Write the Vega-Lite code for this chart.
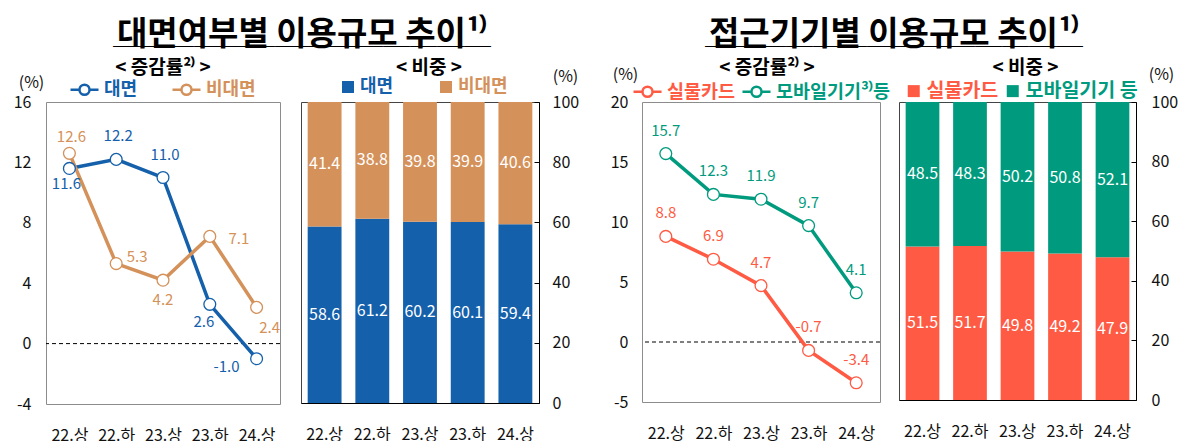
{
  "$schema": "https://vega.github.io/schema/vega-lite/v6.json",
  "background": "white",
  "padding": {"left": 12, "top": 18, "right": 5, "bottom": 0},
  "spacing": 29,
  "resolve": {"scale": {"color": "independent"}, "legend": {"color": "independent"}},
  "hconcat": [
    {
      "title": {"text": "대면여부별 이용규모 추이¹⁾", "fontSize": 33, "fontWeight": "bold", "anchor": "middle", "dx": 6, "subtitle": "──────────────", "subtitleFontSize": 27, "subtitleColor": "black", "subtitlePadding": -16, "offset": -3},
      "spacing": 21,
      "bounds": "flush",
      "resolve": {"scale": {"color": "independent"}, "legend": {"color": "independent"}},
      "hconcat": [
        {
          "width": 234,
          "height": 302,
          "title": {"text": "< 증감률²⁾ >", "fontSize": 19, "fontWeight": "bold", "frame": "group", "anchor": "middle", "offset": -4},
          "view": {"stroke": "#8c8c8c"},
          "data": {"values": [
            {"period": "22.상", "series": "대면", "value": 11.6},
            {"period": "22.하", "series": "대면", "value": 12.2},
            {"period": "23.상", "series": "대면", "value": 11.0},
            {"period": "23.하", "series": "대면", "value": 2.6},
            {"period": "24.상", "series": "대면", "value": -1.0},
            {"period": "22.상", "series": "비대면", "value": 12.6},
            {"period": "22.하", "series": "비대면", "value": 5.3},
            {"period": "23.상", "series": "비대면", "value": 4.2},
            {"period": "23.하", "series": "비대면", "value": 7.1},
            {"period": "24.상", "series": "비대면", "value": 2.4}
          ]},
          "layer": [
            {
              "data": {"values": [{}]},
              "mark": {"type": "rule", "color": "black", "strokeDash": [4, 3], "strokeWidth": 1},
              "encoding": {"y": {"datum": 0, "type": "quantitative", "scale": {"domain": [-4, 16]}}}
            },
            {
              "encoding": {
                "x": {"field": "period", "type": "ordinal", "scale": {"type": "point", "padding": 0.5}, "axis": {"title": null, "labelAngle": 0, "ticks": false, "domain": false, "labelPadding": 23}},
                "y": {"field": "value", "type": "quantitative", "scale": {"domain": [-4, 16]}, "axis": {"title": "(%)", "titleAngle": 0, "titleX": -15, "titleY": -20, "titleAlign": "center", "titleBaseline": "middle", "values": [-4, 0, 4, 8, 12, 16], "ticks": false, "domain": false, "grid": false, "labelPadding": 15}}
              },
              "layer": [
                {
                  "mark": {"type": "line", "strokeWidth": 3.5},
                  "encoding": {"color": {"field": "series", "type": "nominal", "scale": {"domain": ["대면", "비대면"], "range": ["#1560AB", "#D4915A"]},
                    "legend": {"title": null, "orient": "none", "legendX": 23, "legendY": -28, "direction": "horizontal", "gridAlign": "each", "symbolType": "M-1,0L-0.36,0M0.36,0L1,0M-0.36,0A0.36,0.36,0,1,1,0.36,0A0.36,0.36,0,1,1,-0.36,0", "symbolSize": 784, "symbolStrokeWidth": 2.5, "symbolFillColor": "white", "labelFontSize": 18, "labelFontWeight": "bold", "labelOffset": 4, "columnPadding": 29, "labelColor": {"expr": "datum.value == '대면' ? '#1560AB' : '#D4915A'"}}}}
                },
                {
                  "mark": {"type": "point", "filled": false, "fill": "white", "fillOpacity": 1, "size": 140, "strokeWidth": 1.3, "opacity": 1},
                  "encoding": {"color": {"field": "series", "type": "nominal"}}
                },
                {"transform": [{"filter": "datum.series == '대면' && datum.period == '22.상'"}], "mark": {"type": "text", "dx": -3, "dy": 16, "color": "#1560AB", "fontSize": 15}, "encoding": {"text": {"field": "value", "type": "quantitative", "format": ".1f"}}},
                {"transform": [{"filter": "datum.series == '대면' && (datum.period == '22.하' || datum.period == '23.상')"}], "mark": {"type": "text", "dx": 2, "dy": -23, "color": "#1560AB", "fontSize": 15}, "encoding": {"text": {"field": "value", "type": "quantitative", "format": ".1f"}}},
                {"transform": [{"filter": "datum.series == '대면' && datum.period == '23.하'"}], "mark": {"type": "text", "dx": -6, "dy": 18, "color": "#1560AB", "fontSize": 15}, "encoding": {"text": {"field": "value", "type": "quantitative", "format": ".1f"}}},
                {"transform": [{"filter": "datum.series == '대면' && datum.period == '24.상'"}], "mark": {"type": "text", "dx": -30, "dy": 8, "color": "#1560AB", "fontSize": 15}, "encoding": {"text": {"field": "value", "type": "quantitative", "format": ".1f"}}},
                {"transform": [{"filter": "datum.series == '비대면' && datum.period == '22.상'"}], "mark": {"type": "text", "dx": 2, "dy": -16, "color": "#D4915A", "fontSize": 15}, "encoding": {"text": {"field": "value", "type": "quantitative", "format": ".1f"}}},
                {"transform": [{"filter": "datum.series == '비대면' && datum.period == '22.하'"}], "mark": {"type": "text", "dx": 21, "dy": -7, "color": "#D4915A", "fontSize": 15}, "encoding": {"text": {"field": "value", "type": "quantitative", "format": ".1f"}}},
                {"transform": [{"filter": "datum.series == '비대면' && datum.period == '23.상'"}], "mark": {"type": "text", "dx": 0, "dy": 20, "color": "#D4915A", "fontSize": 15}, "encoding": {"text": {"field": "value", "type": "quantitative", "format": ".1f"}}},
                {"transform": [{"filter": "datum.series == '비대면' && datum.period == '23.하'"}], "mark": {"type": "text", "dx": 29, "dy": 3, "color": "#D4915A", "fontSize": 15}, "encoding": {"text": {"field": "value", "type": "quantitative", "format": ".1f"}}},
                {"transform": [{"filter": "datum.series == '비대면' && datum.period == '24.상'"}], "mark": {"type": "text", "dx": 13, "dy": 21, "color": "#D4915A", "fontSize": 15}, "encoding": {"text": {"field": "value", "type": "quantitative", "format": ".1f"}}}
              ]
            }
          ]
        },
        {
          "width": 238,
          "height": 301,
          "title": {"text": "< 비중 >", "fontSize": 19, "fontWeight": "bold", "frame": "group", "anchor": "middle", "dx": 9, "offset": -10},
          "view": {"stroke": "#444"},
          "data": {"values": [
            {"period": "22.상", "series": "대면", "value": 58.6},
            {"period": "22.하", "series": "대면", "value": 61.2},
            {"period": "23.상", "series": "대면", "value": 60.2},
            {"period": "23.하", "series": "대면", "value": 60.1},
            {"period": "24.상", "series": "대면", "value": 59.4},
            {"period": "22.상", "series": "비대면", "value": 41.4},
            {"period": "22.하", "series": "비대면", "value": 38.8},
            {"period": "23.상", "series": "비대면", "value": 39.8},
            {"period": "23.하", "series": "비대면", "value": 39.9},
            {"period": "24.상", "series": "비대면", "value": 40.6}
          ]},
          "transform": [
            {"stack": "value", "groupby": ["period"], "sort": [{"field": "series", "order": "ascending"}], "as": ["v0", "v1"]},
            {"calculate": "(datum.v0 + datum.v1) / 2", "as": "vmid"}
          ],
          "encoding": {
            "x": {"field": "period", "type": "nominal", "scale": {"paddingInner": 0.29, "paddingOuter": 0.14}, "axis": {"title": null, "labelAngle": 0, "ticks": false, "domain": true, "domainColor": "black", "labelPadding": 23}}
          },
          "layer": [
            {
              "mark": {"type": "bar"},
              "encoding": {
                "y": {"field": "v0", "type": "quantitative", "scale": {"domain": [0, 100]}, "axis": {"orient": "right", "title": "(%)", "titleAngle": 0, "titleX": 26, "titleY": -26, "titleAlign": "center", "titleBaseline": "middle", "values": [0, 20, 40, 60, 80, 100], "grid": false, "domain": true, "domainColor": "black", "tickColor": "black", "tickSize": -5, "labelPadding": 18}},
                "y2": {"field": "v1"},
                "color": {"field": "series", "type": "nominal", "scale": {"domain": ["대면", "비대면"], "range": ["#1560AB", "#D4915A"]},
                  "legend": {"title": null, "orient": "none", "legendX": 38, "legendY": -24, "direction": "horizontal", "gridAlign": "each", "symbolType": "square", "symbolSize": 144, "symbolStrokeWidth": 0, "labelFontSize": 18, "labelFontWeight": "bold", "labelOffset": 3, "columnPadding": 43, "labelColor": {"expr": "datum.value == '대면' ? '#1560AB' : '#D4915A'"}}}
              }
            },
            {
              "mark": {"type": "text", "color": "white", "fontSize": 16},
              "encoding": {
                "y": {"field": "vmid", "type": "quantitative"},
                "text": {"field": "value", "type": "quantitative", "format": ".1f"}
              }
            }
          ]
        }
      ]
    },
    {
      "title": {"text": "접근기기별 이용규모 추이¹⁾", "fontSize": 33, "fontWeight": "bold", "anchor": "middle", "subtitle": "──────────────", "subtitleFontSize": 27, "subtitleColor": "black", "subtitlePadding": -16, "offset": -3},
      "spacing": 19,
      "bounds": "flush",
      "resolve": {"scale": {"color": "independent"}, "legend": {"color": "independent"}},
      "hconcat": [
        {
          "width": 238,
          "height": 300,
          "title": {"text": "< 증감률²⁾ >", "fontSize": 19, "fontWeight": "bold", "frame": "group", "anchor": "middle", "dx": 6, "offset": -12},
          "view": {"stroke": "#8c8c8c"},
          "data": {"values": [
            {"period": "22.상", "series": "실물카드", "value": 8.8},
            {"period": "22.하", "series": "실물카드", "value": 6.9},
            {"period": "23.상", "series": "실물카드", "value": 4.7},
            {"period": "23.하", "series": "실물카드", "value": -0.7},
            {"period": "24.상", "series": "실물카드", "value": -3.4},
            {"period": "22.상", "series": "모바일기기 등", "value": 15.7},
            {"period": "22.하", "series": "모바일기기 등", "value": 12.3},
            {"period": "23.상", "series": "모바일기기 등", "value": 11.9},
            {"period": "23.하", "series": "모바일기기 등", "value": 9.7},
            {"period": "24.상", "series": "모바일기기 등", "value": 4.1}
          ]},
          "layer": [
            {
              "data": {"values": [{}]},
              "mark": {"type": "rule", "color": "black", "strokeDash": [4, 3], "strokeWidth": 1},
              "encoding": {"y": {"datum": 0, "type": "quantitative", "scale": {"domain": [-5, 20]}}}
            },
            {
              "encoding": {
                "x": {"field": "period", "type": "ordinal", "scale": {"type": "point", "padding": 0.5}, "axis": {"title": null, "labelAngle": 0, "ticks": false, "domain": false, "labelPadding": 23}},
                "y": {"field": "value", "type": "quantitative", "scale": {"domain": [-5, 20]}, "axis": {"title": "(%)", "titleAngle": 0, "titleX": -17, "titleY": -28, "titleAlign": "center", "titleBaseline": "middle", "values": [-5, 0, 5, 10, 15, 20], "ticks": false, "domain": false, "grid": false, "labelPadding": 14}}
              },
              "layer": [
                {
                  "mark": {"type": "line", "strokeWidth": 3.5},
                  "encoding": {"color": {"field": "series", "type": "nominal", "scale": {"domain": ["실물카드", "모바일기기 등"], "range": ["#FF5A43", "#009B7E"]},
                    "legend": {"title": null, "orient": "none", "legendX": -10, "legendY": -26, "direction": "horizontal", "gridAlign": "each", "symbolType": "M-1,0L-0.36,0M0.36,0L1,0M-0.36,0A0.36,0.36,0,1,1,0.36,0A0.36,0.36,0,1,1,-0.36,0", "symbolSize": 784, "symbolStrokeWidth": 2.5, "symbolFillColor": "white", "labelFontSize": 18.5, "labelFontWeight": "bold", "labelOffset": 4, "columnPadding": 1, "labelExpr": "datum.value == '모바일기기 등' ? '모바일기기³⁾등' : datum.label", "labelColor": {"expr": "datum.value == '실물카드' ? '#FF5A43' : '#009B7E'"}}}}
                },
                {
                  "mark": {"type": "point", "filled": false, "fill": "white", "fillOpacity": 1, "size": 140, "strokeWidth": 1.3, "opacity": 1},
                  "encoding": {"color": {"field": "series", "type": "nominal"}}
                },
                {"transform": [{"filter": "datum.series == '실물카드'"}], "mark": {"type": "text", "dy": -23, "color": "#FF5A43", "fontSize": 15}, "encoding": {"text": {"field": "value", "type": "quantitative", "format": ".1f"}}},
                {"transform": [{"filter": "datum.series == '모바일기기 등'"}], "mark": {"type": "text", "dy": -23, "color": "#009B7E", "fontSize": 15}, "encoding": {"text": {"field": "value", "type": "quantitative", "format": ".1f"}}}
              ]
            }
          ]
        },
        {
          "width": 237,
          "height": 298,
          "title": {"text": "< 비중 >", "fontSize": 19, "fontWeight": "bold", "frame": "group", "anchor": "middle", "dx": 8, "offset": -12},
          "view": {"stroke": "#444"},
          "data": {"values": [
            {"period": "22.상", "series": "실물카드", "value": 51.5},
            {"period": "22.하", "series": "실물카드", "value": 51.7},
            {"period": "23.상", "series": "실물카드", "value": 49.8},
            {"period": "23.하", "series": "실물카드", "value": 49.2},
            {"period": "24.상", "series": "실물카드", "value": 47.9},
            {"period": "22.상", "series": "모바일기기 등", "value": 48.5},
            {"period": "22.하", "series": "모바일기기 등", "value": 48.3},
            {"period": "23.상", "series": "모바일기기 등", "value": 50.2},
            {"period": "23.하", "series": "모바일기기 등", "value": 50.8},
            {"period": "24.상", "series": "모바일기기 등", "value": 52.1}
          ]},
          "transform": [
            {"stack": "value", "groupby": ["period"], "sort": [{"field": "series", "order": "descending"}], "as": ["v0", "v1"]},
            {"calculate": "(datum.v0 + datum.v1) / 2", "as": "vmid"}
          ],
          "encoding": {
            "x": {"field": "period", "type": "nominal", "scale": {"paddingInner": 0.29, "paddingOuter": 0.14}, "axis": {"title": null, "labelAngle": 0, "ticks": false, "domain": true, "domainColor": "black", "labelPadding": 23}}
          },
          "layer": [
            {
              "mark": {"type": "bar"},
              "encoding": {
                "y": {"field": "v0", "type": "quantitative", "scale": {"domain": [0, 100]}, "axis": {"orient": "right", "title": "(%)", "titleAngle": 0, "titleX": 25, "titleY": -28, "titleAlign": "center", "titleBaseline": "middle", "values": [0, 20, 40, 60, 80, 100], "grid": false, "domain": true, "domainColor": "black", "tickColor": "black", "tickSize": -5, "labelPadding": 20}},
                "y2": {"field": "v1"},
                "color": {"field": "series", "type": "nominal", "scale": {"domain": ["실물카드", "모바일기기 등"], "range": ["#FF5A43", "#009B7E"]},
                  "legend": {"title": null, "orient": "none", "legendX": 5, "legendY": -21, "direction": "horizontal", "gridAlign": "each", "symbolType": "square", "symbolSize": 144, "symbolStrokeWidth": 0, "labelFontSize": 19.5, "labelFontWeight": "bold", "labelOffset": 3, "columnPadding": 4, "labelColor": {"expr": "datum.value == '실물카드' ? '#FF5A43' : '#009B7E'"}}}
              }
            },
            {
              "mark": {"type": "text", "color": "white", "fontSize": 16},
              "encoding": {
                "y": {"field": "vmid", "type": "quantitative"},
                "text": {"field": "value", "type": "quantitative", "format": ".1f"}
              }
            }
          ]
        }
      ]
    }
  ],
  "config": {
    "font": "Noto Sans CJK KR",
    "locale": {"number": {"decimal": ".", "thousands": ",", "grouping": [3], "currency": ["", ""], "minus": "-"}},
    "axis": {"labelColor": "#111", "labelFontSize": 16, "titleColor": "#111", "titleFontSize": 16, "titleFontWeight": "normal", "grid": false},
    "title": {"color": "#000"},
    "legend": {"labelFont": "Noto Sans CJK KR"}
  }
}
